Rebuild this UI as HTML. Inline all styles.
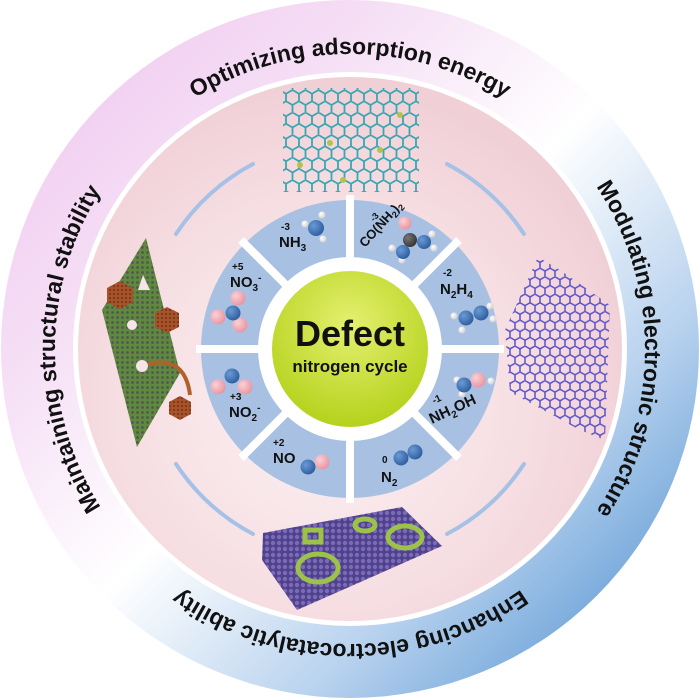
<!DOCTYPE html>
<html><head><meta charset="utf-8"><style>
html,body{margin:0;padding:0;background:#fff;width:700px;height:698px;overflow:hidden}
svg{display:block}
text{font-family:"Liberation Sans",Arial,sans-serif;font-weight:bold;fill:#111}
</style></head><body>
<svg width="700" height="698" viewBox="0 0 700 698" xmlns="http://www.w3.org/2000/svg">
<defs>
<linearGradient id="og" x1="0" y1="0" x2="1" y2="1">
<stop offset="0" stop-color="#efc2ee"/><stop offset="0.3" stop-color="#f6e2f6"/>
<stop offset="0.5" stop-color="#ffffff"/><stop offset="0.72" stop-color="#b8d2ee"/>
<stop offset="1" stop-color="#3f86cc"/></linearGradient>
<radialGradient id="ig" cx="0.45" cy="0.6" r="0.6">
<stop offset="0" stop-color="#fcf1f3"/><stop offset="0.6" stop-color="#f6dfe3"/><stop offset="1" stop-color="#f0cfd6"/></radialGradient>
<radialGradient id="gg" cx="0.5" cy="0.35" r="0.65">
<stop offset="0" stop-color="#e4f070"/><stop offset="1" stop-color="#b5d21c"/></radialGradient>
<radialGradient id="bb" cx="0.35" cy="0.35" r="0.7"><stop offset="0" stop-color="#6a9ad6"/><stop offset="1" stop-color="#2d5d9c"/></radialGradient>
<radialGradient id="pb" cx="0.35" cy="0.35" r="0.7"><stop offset="0" stop-color="#fbd0d6"/><stop offset="1" stop-color="#e8949f"/></radialGradient>
<radialGradient id="wb" cx="0.35" cy="0.35" r="0.7"><stop offset="0" stop-color="#ffffff"/><stop offset="1" stop-color="#cfcfcf"/></radialGradient>
<radialGradient id="kb" cx="0.35" cy="0.35" r="0.7"><stop offset="0" stop-color="#777"/><stop offset="1" stop-color="#333"/></radialGradient>
<pattern id="hex" width="13" height="22.5" patternUnits="userSpaceOnUse">
<path d="M0,3.75 L6.5,0 L13,3.75 M0,3.75 L0,11.25 L6.5,15 L13,11.25 L13,3.75 M6.5,15 L6.5,22.5" fill="none" stroke="#3aa6b2" stroke-width="1.8"/></pattern>
<pattern id="hexp" width="10" height="17.3" patternUnits="userSpaceOnUse">
<path d="M0,2.9 L5,0 L10,2.9 L10,8.7 L5,11.5 L0,8.7 Z M5,11.5 L5,17.3" fill="none" stroke="#5a52c8" stroke-width="1.5"/></pattern>
<pattern id="dg" width="5" height="5" patternUnits="userSpaceOnUse">
<rect width="5" height="5" fill="#5d8a3c"/><circle cx="2.5" cy="2.5" r="1.4" fill="#555"/></pattern>
<pattern id="dp" width="6" height="6" patternUnits="userSpaceOnUse">
<rect width="6" height="6" fill="#4f428a"/><circle cx="3" cy="3" r="2.2" fill="#7a6ab8"/></pattern>
<pattern id="db" width="4" height="4" patternUnits="userSpaceOnUse">
<rect width="4" height="4" fill="#a8522a"/><circle cx="2" cy="2" r="1" fill="#6e3414"/></pattern>
<path id="tp" d="M 141.4 557.6 A 295 295 0 1 1 558.6 557.6 A 295 295 0 0 1 141.4 557.6"/>
</defs>
<circle cx="350" cy="349" r="349" fill="url(#og)"/>
<circle cx="350" cy="349" r="277" fill="#fff"/>
<circle cx="350" cy="349" r="272" fill="url(#ig)"/>
<g font-size="23">
<text><textPath href="#tp" startOffset="12.5%" text-anchor="middle">Maintaining structural stability</textPath></text>
<text><textPath href="#tp" startOffset="37.5%" text-anchor="middle">Optimizing adsorption energy</textPath></text>
<text><textPath href="#tp" startOffset="62.5%" text-anchor="middle">Modulating electronic structure</textPath></text>
<text><textPath href="#tp" startOffset="87.5%" text-anchor="middle">Enhancing electrocatalytic ability</textPath></text>
</g>
<g fill="none" stroke="#a6c1e6" stroke-width="4" stroke-linecap="round">
<path d="M 176 234 A 210 210 0 0 1 253 164"/>
<path d="M 447 164 A 210 210 0 0 1 524 234"/>
<path d="M 524 464 A 210 210 0 0 1 447 534"/>
<path d="M 253 534 A 210 210 0 0 1 176 464"/>
</g>
<rect x="283" y="88" width="136" height="104" fill="url(#hex)"/>
<g fill="#b8c24a"><circle cx="330" cy="143" r="3"/><circle cx="380" cy="150" r="3"/><circle cx="300" cy="165" r="3"/><circle cx="400" cy="115" r="3"/><circle cx="343" cy="180" r="3"/></g>
<polygon points="538,257 560,270 610,305 605,440 580,430 510,392 505,330" fill="url(#hexp)"/>
<polygon points="263,533 402,507 442,546 297,610 262,560" fill="url(#dp)"/>
<g fill="none" stroke="#9cc24a" stroke-width="5">
<ellipse cx="318" cy="568" rx="20" ry="14"/><ellipse cx="405" cy="537" rx="17" ry="11"/><ellipse cx="365" cy="525" rx="10" ry="6"/><rect x="305" y="530" width="16" height="12"/>
</g>
<polygon points="146,238 102,310 137,447 180,373" fill="url(#dg)"/>
<g fill="#f6e4e8"><polygon points="143,275 150,290 138,290"/><circle cx="132" cy="325" r="5"/><circle cx="142" cy="366" r="6"/></g>
<g fill="url(#db)">
<polygon points="120,281 133,288 133,302 120,309 107,302 107,288"/>
<polygon points="167,307 179,313 179,327 167,333 155,327 155,313"/>
<polygon points="180,396 191,402 191,414 180,420 169,414 169,402"/>
</g>
<path d="M148,364 Q185,355 190,395" fill="none" stroke="#b0602a" stroke-width="4"/>
<circle cx="350" cy="349" r="149" fill="#a8c1e3"/>
<g stroke="#fff" stroke-width="8">
<line x1="350" y1="195" x2="350" y2="503"/><line x1="196" y1="349" x2="504" y2="349"/>
<line x1="241" y1="240" x2="459" y2="458"/><line x1="459" y1="240" x2="241" y2="458"/>
</g>
<circle cx="350" cy="349" r="92" fill="#fff"/>
<circle cx="350" cy="349" r="78" fill="url(#gg)"/>
<text x="350" y="346" font-size="36" text-anchor="middle">Defect</text>
<text x="350" y="372" font-size="17" text-anchor="middle">nitrogen cycle</text>
<g font-size="15">
<text x="279" y="247">NH<tspan font-size="10" dy="4">3</tspan></text>
<text x="281" y="230" font-size="10">-3</text>
<text x="440" y="294">N<tspan font-size="10" dy="4">2</tspan><tspan dy="-4">H</tspan><tspan font-size="10" dy="4">4</tspan></text>
<text x="443" y="276" font-size="10">-2</text>
<text x="381" y="482">N<tspan font-size="10" dy="4">2</tspan></text>
<text x="382" y="463" font-size="10">0</text>
<text x="273" y="463">NO</text>
<text x="273" y="446" font-size="10">+2</text>
<text x="229" y="417">NO<tspan font-size="10" dy="4">2</tspan><tspan font-size="10" dy="-10">-</tspan></text>
<text x="230" y="400" font-size="10">+3</text>
<text x="230" y="287">NO<tspan font-size="10" dy="4">3</tspan><tspan font-size="10" dy="-10">-</tspan></text>
<text x="232" y="270" font-size="10">+5</text>
<text transform="translate(432,424) rotate(-25)">NH<tspan font-size="10" dy="4">2</tspan><tspan dy="-4">OH</tspan></text>
<text transform="translate(434,404) rotate(-25)" font-size="10">-1</text>
<text transform="translate(365,248) rotate(-48)" font-size="13">CO(NH<tspan font-size="9" dy="3">2</tspan><tspan dy="-3">)</tspan><tspan font-size="9" dy="3">2</tspan></text>
<text transform="translate(374,222) rotate(-48)" font-size="9">-3</text>
</g>
<g>
<circle cx="305" cy="224" r="3.5" fill="url(#wb)"/><circle cx="322" cy="215" r="3.5" fill="url(#wb)"/><circle cx="323" cy="239" r="3.5" fill="url(#wb)"/>
<circle cx="316" cy="228" r="8" fill="url(#bb)"/>
<circle cx="405" cy="223" r="6.5" fill="url(#pb)"/><circle cx="410" cy="240" r="7" fill="url(#kb)"/>
<circle cx="432" cy="234" r="3.5" fill="url(#wb)"/><circle cx="434" cy="248" r="3.5" fill="url(#wb)"/><circle cx="392" cy="248" r="3.5" fill="url(#wb)"/><circle cx="402" cy="260" r="3.5" fill="url(#wb)"/>
<circle cx="424" cy="242" r="7" fill="url(#bb)"/><circle cx="403" cy="252" r="7" fill="url(#bb)"/>
<circle cx="454" cy="316" r="3.5" fill="url(#wb)"/><circle cx="462" cy="330" r="3.5" fill="url(#wb)"/><circle cx="490" cy="306" r="3.5" fill="url(#wb)"/><circle cx="493" cy="319" r="3.5" fill="url(#wb)"/>
<circle cx="466" cy="318" r="7.5" fill="url(#bb)"/><circle cx="481" cy="313" r="7.5" fill="url(#bb)"/>
<circle cx="457" cy="380" r="3.5" fill="url(#wb)"/><circle cx="462" cy="394" r="3.5" fill="url(#wb)"/><circle cx="491" cy="381" r="3.5" fill="url(#wb)"/>
<circle cx="464" cy="385" r="7.5" fill="url(#bb)"/><circle cx="478" cy="380" r="7.5" fill="url(#pb)"/>
<circle cx="401" cy="458" r="7.5" fill="url(#bb)"/><circle cx="415" cy="452" r="7.5" fill="url(#bb)"/>
<circle cx="322" cy="462" r="7.5" fill="url(#pb)"/><circle cx="308" cy="467" r="7.5" fill="url(#bb)"/>
<circle cx="232" cy="376" r="7.5" fill="url(#bb)"/><circle cx="218" cy="387" r="7.5" fill="url(#pb)"/><circle cx="245" cy="387" r="7.5" fill="url(#pb)"/>
<circle cx="238" cy="298" r="7.5" fill="url(#pb)"/><circle cx="218" cy="317" r="7.5" fill="url(#pb)"/><circle cx="240" cy="325" r="7.5" fill="url(#pb)"/>
<circle cx="233" cy="313" r="7.5" fill="url(#bb)"/>
</g>
</svg>
</body></html>
